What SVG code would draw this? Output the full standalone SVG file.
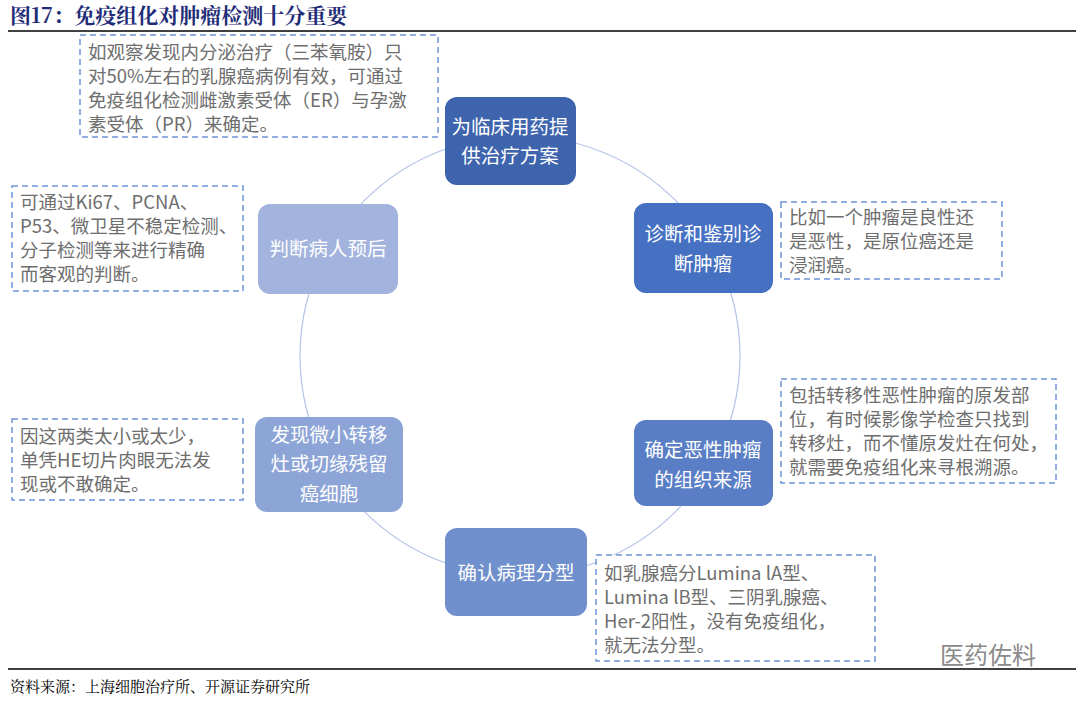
<svg xmlns="http://www.w3.org/2000/svg" width="1080" height="703" viewBox="0 0 1080 703">
<style>
.n{stroke:none}
.nt{font-family:"Noto Sans CJK SC","Noto Sans",sans-serif;font-size:19.5px;fill:#fff;text-anchor:middle}
.bx{fill:#fff;stroke:#6f93d6;stroke-width:1.5;stroke-dasharray:6 4}
.bt{font-family:"Noto Sans CJK SC","Noto Sans",sans-serif;font-size:18.5px;fill:#6e6e6e}
</style>
<rect width="1080" height="703" fill="#fff"/>
<text x="10" y="23" font-family="'Noto Serif CJK SC','Noto Sans CJK SC',serif" font-weight="bold" font-size="21" fill="#1f2d78">图17：免疫组化对肿瘤检测十分重要</text>
<line x1="8" y1="31" x2="1076" y2="31" stroke="#000" stroke-width="1.5"/>
<g id="connectors"><circle cx="520" cy="356" r="220" fill="none" stroke="#b4c4e8" stroke-width="1.2"/></g>
<g id="box1"><rect class="bx" x="80" y="35" width="358" height="102"/><text class="bt"><tspan x="88" y="59">如观察发现内分泌治疗（三苯氧胺）只</tspan><tspan x="88" y="83">对50%左右的乳腺癌病例有效，可通过</tspan><tspan x="88" y="107">免疫组化检测雌激素受体（ER）与孕激</tspan><tspan x="88" y="131">素受体（PR）来确定。</tspan></text></g>
<g id="box2"><rect class="bx" x="12" y="186" width="231" height="105"/><text class="bt"><tspan x="20" y="209">可通过Ki67、PCNA、</tspan><tspan x="20" y="233">P53、微卫星不稳定检测、</tspan><tspan x="20" y="257">分子检测等来进行精确</tspan><tspan x="20" y="281">而客观的判断。</tspan></text></g>
<g id="box3"><rect class="bx" x="781" y="202" width="221" height="77"/><text class="bt"><tspan x="789" y="224">比如一个肿瘤是良性还</tspan><tspan x="789" y="248">是恶性，是原位癌还是</tspan><tspan x="789" y="272">浸润癌。</tspan></text></g>
<g id="box4"><rect class="bx" x="781" y="379" width="275" height="104"/><text class="bt"><tspan x="789" y="402">包括转移性恶性肿瘤的原发部</tspan><tspan x="789" y="426">位，有时候影像学检查只找到</tspan><tspan x="789" y="450">转移灶，而不懂原发灶在何处，</tspan><tspan x="789" y="474">就需要免疫组化来寻根溯源。</tspan></text></g>
<g id="box5"><rect class="bx" x="12" y="419" width="231" height="81"/><text class="bt"><tspan x="20" y="443">因这两类太小或太少，</tspan><tspan x="20" y="467">单凭HE切片肉眼无法发</tspan><tspan x="20" y="491">现或不敢确定。</tspan></text></g>
<g id="box6"><rect class="bx" x="596" y="555" width="279" height="106"/><text class="bt"><tspan x="604" y="580">如乳腺癌分Lumina lA型、</tspan><tspan x="604" y="604">Lumina lB型、三阴乳腺癌、</tspan><tspan x="604" y="628">Her-2阳性，没有免疫组化，</tspan><tspan x="604" y="652">就无法分型。</tspan></text></g>
<g id="n1"><rect x="445" y="97" width="131" height="88" rx="12" fill="#3e64ad"/><text class="nt"><tspan x="510" y="134">为临床用药提</tspan><tspan x="510" y="163">供治疗方案</tspan></text></g>
<g id="n2"><rect x="634" y="203" width="139" height="90" rx="12" fill="#4670c2"/><text class="nt"><tspan x="703" y="241">诊断和鉴别诊</tspan><tspan x="703" y="271">断肿瘤</tspan></text></g>
<g id="n3"><rect x="634" y="420" width="139" height="86" rx="12" fill="#5a7ec6"/><text class="nt"><tspan x="703" y="457">确定恶性肿瘤</tspan><tspan x="703" y="487">的组织来源</tspan></text></g>
<g id="n4"><rect x="445" y="528" width="142" height="88" rx="12" fill="#6f8fcd"/><text class="nt"><tspan x="516" y="580">确认病理分型</tspan></text></g>
<g id="n5"><rect x="255" y="417" width="148" height="95" rx="12" fill="#8da4d7"/><text class="nt"><tspan x="329" y="442">发现微小转移</tspan><tspan x="329" y="471">灶或切缘残留</tspan><tspan x="329" y="501">癌细胞</tspan></text></g>
<g id="n6"><rect x="258" y="204" width="140" height="90" rx="12" fill="#a2b3dd"/><text class="nt"><tspan x="328" y="256">判断病人预后</tspan></text></g>
<line x1="8" y1="669" x2="1076" y2="669" stroke="#000" stroke-width="1.5"/>
<text x="940" y="664" font-family="'Noto Sans CJK SC',sans-serif" font-size="24" fill="#8a8a8a">医药佐料</text>
<text x="10" y="692" font-family="'Noto Serif CJK SC','Noto Sans CJK SC',serif" font-size="15" fill="#000">资料来源：上海细胞治疗所、开源证券研究所</text>
</svg>
